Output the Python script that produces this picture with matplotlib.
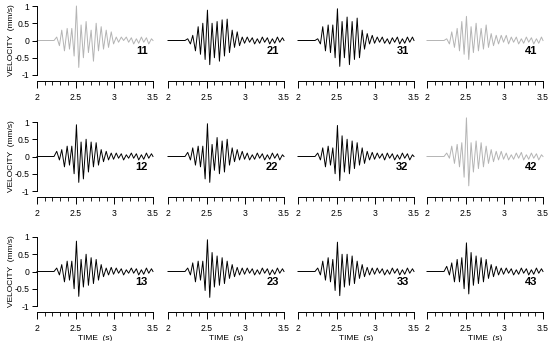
import matplotlib
matplotlib.use("Agg")
import matplotlib.pyplot as plt
from matplotlib.ticker import MultipleLocator, FixedLocator

plt.rcParams["font.family"] = ["Liberation Sans", "DejaVu Sans"]

# times of the wave extrema (s)
TIMES = [2.0, 2.22, 2.255, 2.29, 2.32, 2.355, 2.39, 2.42, 2.45, 2.48, 2.51, 2.54,
         2.57, 2.60, 2.635, 2.665, 2.70, 2.73, 2.765, 2.795, 2.83, 2.86,
         2.895, 2.925, 2.96, 2.99, 3.025, 3.055, 3.09, 3.12, 3.155, 3.185,
         3.22, 3.25, 3.285, 3.315, 3.35, 3.38, 3.415, 3.445, 3.48, 3.5]

# velocity at those times (mm/s), one list per station
V11 = [0, 0,
       0.10, -0.15, 0.30, -0.30, 0.35, -0.25, 0.35, -0.45, 1.00, -0.78,
       0.45, -0.50, 0.55, -0.35, 0.30, -0.60, 0.50, -0.30, 0.40, -0.25,
       0.30, -0.20, 0.25, -0.10, 0.10, -0.05, 0.10, 0.00, 0.10, -0.05,
       0.08, -0.10, 0.05, -0.08, 0.10, -0.05, 0.08, -0.10, 0.05, 0.0]
V21 = [0, 0,
       0.05, -0.10, 0.15, -0.30, 0.40, -0.40, 0.50, -0.55, 0.88, -0.70,
       0.50, -0.50, 0.55, -0.60, 0.60, -0.45, 0.62, -0.35, 0.30, -0.20,
       0.25, -0.15, 0.10, -0.08, 0.10, -0.05, 0.08, -0.10, 0.05, -0.08,
       0.10, -0.05, 0.08, -0.10, 0.05, -0.08, 0.10, -0.05, 0.08, 0.0]
V31 = [0, 0,
       0.05, -0.10, 0.40, -0.30, 0.45, -0.35, 0.45, -0.50, 0.92, -0.75,
       0.55, -0.50, 0.68, -0.70, 0.55, -0.55, 0.65, -0.50, 0.30, -0.25,
       0.20, -0.10, 0.15, -0.08, 0.10, -0.05, 0.10, -0.08, 0.05, -0.10,
       0.08, -0.05, 0.10, -0.10, 0.05, -0.08, 0.10, -0.05, 0.10, 0.0]
V41 = [0, 0,
       0.05, -0.10, 0.25, -0.20, 0.35, -0.30, 0.55, -0.40, 0.70, -0.55,
       0.40, -0.35, 0.50, -0.30, 0.35, -0.25, 0.45, -0.20, 0.20, -0.15,
       0.15, -0.10, 0.15, -0.05, 0.15, -0.10, 0.10, -0.05, 0.10, -0.10,
       0.05, -0.08, 0.10, -0.05, 0.08, -0.10, 0.05, -0.08, 0.10, 0.0]
V12 = [0, 0,
       0.15, -0.10, 0.20, -0.30, 0.30, -0.25, 0.30, -0.50, 0.92, -0.75,
       0.42, -0.65, 0.50, -0.45, 0.42, -0.30, 0.40, -0.25, 0.20, -0.15,
       0.15, -0.10, 0.10, -0.08, 0.10, -0.05, 0.08, -0.10, 0.05, -0.05,
       0.10, -0.05, 0.08, -0.10, 0.05, -0.08, 0.10, -0.05, 0.08, 0.0]
V22 = [0, 0,
       0.12, -0.10, 0.25, -0.25, 0.30, -0.30, 0.30, -0.65, 0.95, -0.75,
       0.35, -0.40, 0.55, -0.50, 0.45, -0.45, 0.50, -0.25, 0.25, -0.15,
       0.20, -0.10, 0.15, -0.08, 0.10, -0.10, 0.05, -0.08, 0.10, -0.05,
       0.08, -0.10, 0.05, -0.08, 0.10, -0.05, 0.08, -0.10, 0.05, 0.0]
V32 = [0, 0,
       0.10, -0.10, 0.25, -0.30, 0.30, -0.25, 0.25, -0.50, 0.90, -0.70,
       0.60, -0.45, 0.50, -0.50, 0.45, -0.35, 0.40, -0.25, 0.25, -0.20,
       0.15, -0.10, 0.12, -0.08, 0.10, -0.05, 0.08, -0.10, 0.10, -0.05,
       0.08, -0.10, 0.05, -0.08, 0.10, -0.05, 0.08, -0.10, 0.05, 0.0]
V42 = [0, 0,
       0.10, -0.05, 0.30, -0.20, 0.35, -0.30, 0.40, -0.60, 1.12, -0.85,
       0.40, -0.45, 0.45, -0.35, 0.40, -0.30, 0.30, -0.20, 0.20, -0.15,
       0.15, -0.10, 0.15, -0.08, 0.10, -0.10, 0.05, -0.08, 0.10, -0.05,
       0.12, -0.10, 0.05, -0.08, 0.10, -0.05, 0.08, -0.10, 0.05, 0.0]
V13 = [0, 0,
       0.10, -0.10, 0.20, -0.30, 0.30, -0.25, 0.30, -0.50, 0.88, -0.72,
       0.35, -0.45, 0.50, -0.40, 0.40, -0.35, 0.35, -0.25, 0.20, -0.15,
       0.10, -0.10, 0.12, -0.08, 0.10, -0.05, 0.08, -0.10, 0.05, -0.05,
       0.10, -0.05, 0.08, -0.10, 0.05, -0.08, 0.10, -0.05, 0.08, 0.0]
V23 = [0, 0,
       0.10, -0.10, 0.25, -0.30, 0.30, -0.25, 0.30, -0.55, 0.92, -0.75,
       0.55, -0.45, 0.45, -0.40, 0.40, -0.35, 0.30, -0.20, 0.20, -0.15,
       0.12, -0.10, 0.10, -0.08, 0.10, -0.05, 0.08, -0.10, 0.05, -0.08,
       0.10, -0.05, 0.08, -0.10, 0.05, -0.08, 0.10, -0.05, 0.08, 0.0]
V33 = [0, 0,
       0.10, -0.10, 0.30, -0.25, 0.40, -0.30, 0.35, -0.55, 0.85, -0.70,
       0.50, -0.45, 0.50, -0.40, 0.45, -0.35, 0.30, -0.20, 0.20, -0.15,
       0.12, -0.10, 0.10, -0.08, 0.10, -0.05, 0.08, -0.10, 0.05, -0.08,
       0.10, -0.05, 0.08, -0.10, 0.05, -0.08, 0.10, -0.05, 0.08, 0.0]
V43 = [0, 0,
       0.15, -0.10, 0.25, -0.30, 0.35, -0.30, 0.40, -0.50, 0.83, -0.65,
       0.55, -0.40, 0.45, -0.35, 0.40, -0.30, 0.35, -0.20, 0.20, -0.15,
       0.15, -0.10, 0.10, -0.08, 0.10, -0.05, 0.08, -0.10, 0.05, -0.08,
       0.10, -0.05, 0.08, -0.10, 0.05, -0.08, 0.10, -0.05, 0.08, 0.0]

GRID = [["11", "21", "31", "41"],
        ["12", "22", "32", "42"],
        ["13", "23", "33", "43"]]
WAVES = {"11": V11, "21": V21, "31": V31, "41": V41,
         "12": V12, "22": V22, "32": V32, "42": V42,
         "13": V13, "23": V23, "33": V33, "43": V43}
GRAY_ONES = {"11", "41", "42"}

X_TICKS = [2, 2.5, 3, 3.5]
X_TICK_LABELS = ["2", "2.5", "3", "3.5"]
Y_TICKS = [-1, -0.5, 0, 0.5, 1]
Y_TICK_LABELS = ["-1", "-0.5", "0", "0.5", "1"]

W, H = 550, 341
fig = plt.figure(figsize=(W / 100, H / 100), dpi=100)

col_left = [37, 168, 298, 427]
col_w = 116
row_top = [6, 122, 237]
px_per_unit = 34.5
ymin, ymax = -1.17, 1.0
ax_h = (ymax - ymin) * px_per_unit

for r, row in enumerate(GRID):
    for c, name in enumerate(row):
        ax = fig.add_axes([col_left[c] / W, 1 - (row_top[r] + ax_h) / H,
                           col_w / W, ax_h / H])
        vals = WAVES[name]
        assert len(vals) == len(TIMES)
        color = "#b4b4b4" if name in GRAY_ONES else "black"
        ax.plot(TIMES, vals, color=color, lw=0.7, clip_on=False)
        ax.set_xlim(2, 3.5)
        ax.set_ylim(ymin, ymax)
        ax.spines["top"].set_visible(False)
        ax.spines["right"].set_visible(False)
        ax.spines["bottom"].set_linewidth(0.7)
        ax.xaxis.set_major_locator(FixedLocator(X_TICKS))
        ax.set_xticklabels(X_TICK_LABELS)
        ax.xaxis.set_minor_locator(MultipleLocator(0.1))
        ax.tick_params(axis="x", which="major", length=5, width=0.7,
                       labelsize=6.2, pad=4, direction="out")
        ax.tick_params(axis="x", which="minor", length=3, width=0.6,
                       direction="out")
        if c == 0:
            ax.spines["left"].set_bounds(-1, 1)
            ax.spines["left"].set_linewidth(0.7)
            ax.set_yticks(Y_TICKS)
            ax.set_yticklabels(Y_TICK_LABELS)
            ax.tick_params(axis="y", length=3.5, width=0.7, labelsize=6.2,
                           pad=2, direction="out")
            ax.set_ylabel("VELOCITY  (mm/s)", fontsize=6)
            ax.yaxis.set_label_coords(-0.19, (0 - ymin) / (ymax - ymin))
        else:
            ax.spines["left"].set_visible(False)
            ax.set_yticks([])
        if r == 2:
            ax.set_xlabel("TIME  (s)", fontsize=6)
            ax.xaxis.set_label_coords(0.5, -0.305)
        ax.text(3.43, -0.3, name, fontsize=8, fontweight="bold",
                ha="right", va="center")

fig.savefig("out.png", dpi=100)
